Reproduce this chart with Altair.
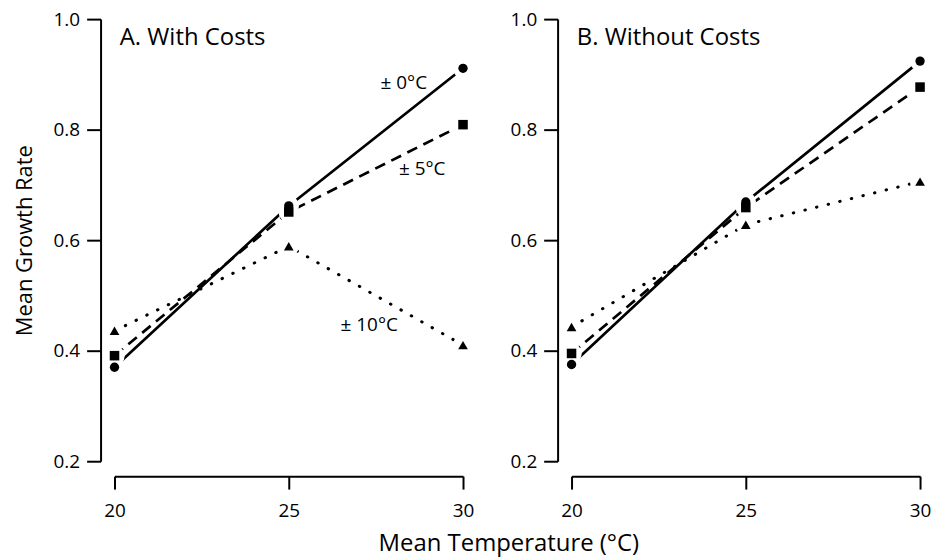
import altair as alt
import pandas as pd

# ---- data ----
temps = [20, 25, 30]
series_names = ["± 0°C", "± 5°C", "± 10°C"]

with_costs_0 = [0.370, 0.662, 0.911]
with_costs_5 = [0.391, 0.651, 0.809]
with_costs_10 = [0.436, 0.589, 0.410]

without_costs_0 = [0.375, 0.669, 0.924]
without_costs_5 = [0.395, 0.659, 0.877]
without_costs_10 = [0.443, 0.628, 0.706]

panel_titles = ["A. With Costs", "B. Without Costs"]
x_ticks = [20, 25, 30]
y_ticks = [0.2, 0.4, 0.6, 0.8, 1.0]

annot_labels = ["± 0°C", "± 5°C", "± 10°C"]
annot_x = [28.3, 28.83, 27.31]
annot_y = [0.885, 0.728, 0.447]

FONT = "Open Sans"

line_styles = {
    "± 0°C": dict(strokeCap="butt"),
    "± 5°C": dict(strokeDash=[11, 7], strokeCap="butt"),
    "± 10°C": dict(strokeDash=[0.5, 11.5], strokeCap="round", strokeWidth=3),
}


def make_panel(series_values, title, show_y_title, with_annotations):
    rows = []
    for name, vals in zip(series_names, series_values):
        for t, v in zip(temps, vals):
            rows.append({"series": name, "temp": t, "rate": v})
    df = pd.DataFrame(rows)

    x = alt.X(
        "temp:Q",
        scale=alt.Scale(domain=[20, 30], nice=False, zero=False),
        axis=alt.Axis(values=x_ticks, offset=15, tickSize=13, labelFlush=False,
                      labelPadding=13, labelOverlap=False),
        title=None,
    )
    if show_y_title:
        yaxis = alt.Axis(values=y_ticks, format=".1f", offset=14, tickSize=14,
                         labelPadding=7, titlePadding=17, labelFlush=False)
        y = alt.Y("rate:Q", scale=alt.Scale(domain=[0.2, 1.0], nice=False, zero=False),
                  axis=yaxis, title="Mean Growth Rate")
    else:
        yaxis = alt.Axis(values=y_ticks, format=".1f", offset=14, tickSize=14,
                         labelPadding=7, labelFlush=False)
        y = alt.Y("rate:Q", scale=alt.Scale(domain=[0.2, 1.0], nice=False, zero=False),
                  axis=yaxis, title=None)

    base = alt.Chart(df)
    layers = []
    for name in series_names:
        style = dict(color="black", strokeWidth=2.7)
        style.update(line_styles[name])
        layers.append(
            base.transform_filter(alt.datum.series == name)
            .mark_line(**style)
            .encode(x=x, y=y)
        )

    halo = base.mark_point(filled=True, fill="white", color="white", opacity=1,
                           shape="circle", size=420).encode(x=x, y=y)
    points = base.mark_point(filled=True, color="black", opacity=1).encode(
        x=x, y=y,
        shape=alt.Shape("series:N", scale=alt.Scale(domain=series_names,
                        range=["circle", "square", "triangle-up"]), legend=None),
        size=alt.Size("series:N", scale=alt.Scale(domain=series_names,
                      range=[88, 95, 128]), legend=None),
    )
    layers += [halo, points]

    title_df = pd.DataFrame({"label": [title], "temp": [20.15], "rate": [0.953]})
    title_text = alt.Chart(title_df).mark_text(
        align="left", baseline="alphabetic", font=FONT, fontSize=24, color="black"
    ).encode(x=x, y=y, text="label:N")
    layers.append(title_text)

    if with_annotations:
        ann_df = pd.DataFrame({"label": annot_labels, "temp": annot_x, "rate": annot_y})
        ann = alt.Chart(ann_df).mark_text(
            align="center", baseline="middle", font=FONT, fontSize=19, color="black"
        ).encode(x=x, y=y, text="label:N")
        layers.append(ann)

    return alt.layer(*layers).properties(width=350, height=444)


panel_a = make_panel([with_costs_0, with_costs_5, with_costs_10], panel_titles[0], True, True)
panel_b = make_panel([without_costs_0, without_costs_5, without_costs_10], panel_titles[1], False, False)

chart = (
    alt.hconcat(panel_a, panel_b, spacing=34)
    .properties(
        title=alt.TitleParams(
            "Mean Temperature (°C)", orient="bottom", anchor="middle",
            font=FONT, fontSize=24, fontWeight="normal", color="black", offset=11, dx=37,
        ),
        padding={"left": 12, "top": 8, "right": 0, "bottom": 0},
    )
    .configure_view(stroke="transparent")
    .configure_axis(
        grid=False, domainColor="black", domainWidth=2, tickColor="black", tickWidth=2,
        labelFont=FONT, labelFontSize=19, labelColor="black",
        titleFont=FONT, titleFontSize=22, titleFontWeight="normal", titleColor="black",
    )
)

chart.save("out.html", embed_options={"renderer": "svg", "actions": False})
